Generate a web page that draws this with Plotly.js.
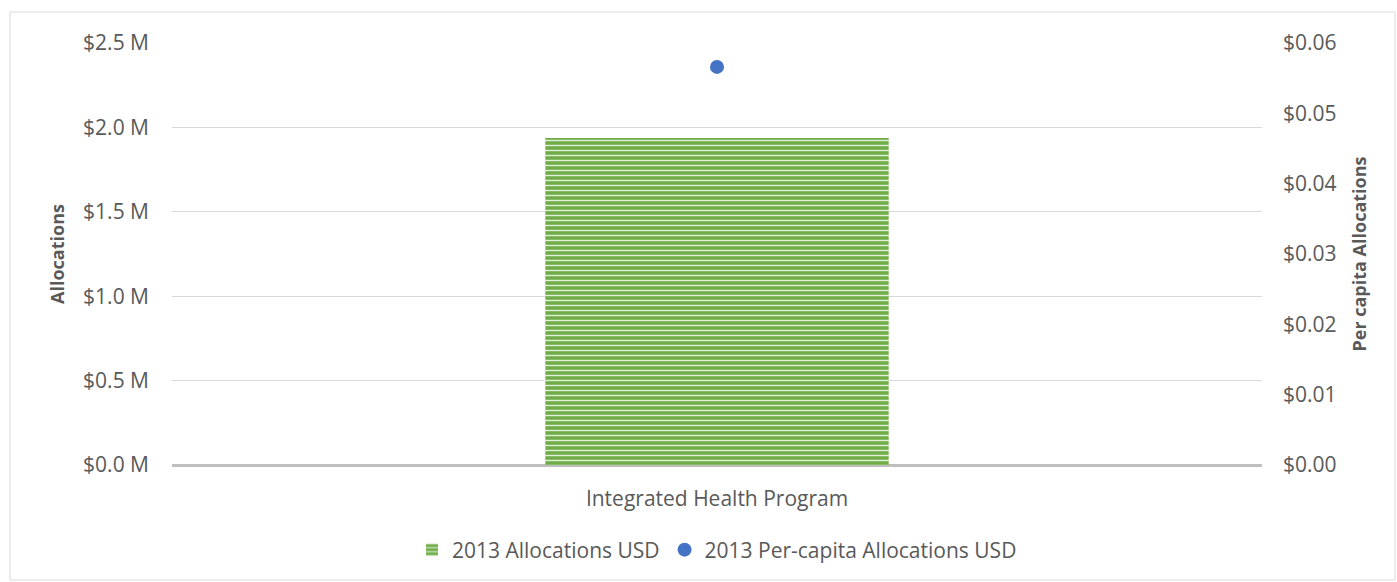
<!DOCTYPE html>
<html><head><meta charset="utf-8">
<script src="https://cdn.plot.ly/plotly-3.0.1.min.js"></script>
<style>html,body{margin:0;padding:0;background:#fff}#chart{width:1397px;height:582px}</style>
</head><body><div id="chart"></div>
<script>
const categories = ["Integrated Health Program"];
const allocations = [1937000];
const perCapita = [0.0566];
const leftTickVals = [0, 500000, 1000000, 1500000, 2000000, 2500000];
const leftTickText = ["$0.0 M", "$0.5 M", "$1.0 M", "$1.5 M", "$2.0 M", "$2.5 M"];
const rightTickVals = [0, 0.01, 0.02, 0.03, 0.04, 0.05, 0.06];
const rightTickText = ["$0.00", "$0.01", "$0.02", "$0.03", "$0.04", "$0.05", "$0.06"];

const font = "Open Sans, Noto Sans, sans-serif";
const grey = '#595959';
const L = 172, R = 1262, T = 43, B = 465;
const PW = R - L, PH = B - T;
const traces = [
  {type:'bar', x:categories, y:allocations, name:'2013 Allocations USD', width:0.315,
   marker:{color:'#70AD47', line:{width:0},
     pattern:{shape:'-', fgcolor:'#e2efda', bgcolor:'#70AD47', size:5, solidity:0.28}}},
  {type:'scatter', mode:'markers', x:categories, y:perCapita, yaxis:'y2', name:'2013 Per-capita Allocations USD',
   marker:{color:'#4472C4', size:14}}
];
const layout = {
  width:1397, height:582, margin:{l:L, r:1397-R, t:T, b:582-B},
  paper_bgcolor:'#fff', plot_bgcolor:'#fff', showlegend:true,
  font:{family:font, color:grey, size:21},
  xaxis:{showgrid:false, tickfont:{size:21, color:grey}, ticks:'', showline:false, ticklabelstandoff:19, automargin:false},
  yaxis:{range:[0,2500000], tickvals:leftTickVals, ticktext:leftTickText, gridcolor:'#d9d9d9', gridwidth:1,
    zeroline:true, zerolinecolor:'#bfbfbf', zerolinewidth:3, ticklabelstandoff:22, automargin:false,
    tickfont:{size:21, color:grey},
    title:{text:'<b>Allocations</b>', font:{size:18, color:grey}, standoff:13}},
  yaxis2:{range:[0,0.06], overlaying:'y', side:'right', tickvals:rightTickVals, ticktext:rightTickText,
    showgrid:false, zeroline:false, ticklabelstandoff:20, automargin:false, tickfont:{size:21, color:grey},
    title:{text:'<b>Per capita Allocations</b>', font:{size:18, color:grey}, standoff:17}},
  legend:{orientation:'h', x:0.5, xanchor:'center', xref:'paper', yref:'container', y:(582-550)/582, yanchor:'middle',
    font:{size:21, color:grey}, itemwidth:30, tracegroupgap:0},
  shapes:[{type:'rect', xref:'paper', yref:'paper', x0:(10-L)/PW, x1:(1395-L)/PW, y0:-(580-B)/PH, y1:(B-12)/PH,
    line:{color:'#d9d9d9', width:1}, fillcolor:'rgba(0,0,0,0)', layer:'below'}]
};
Plotly.newPlot('chart', traces, layout, {displayModeBar:false, staticPlot:true});
</script></body></html>
